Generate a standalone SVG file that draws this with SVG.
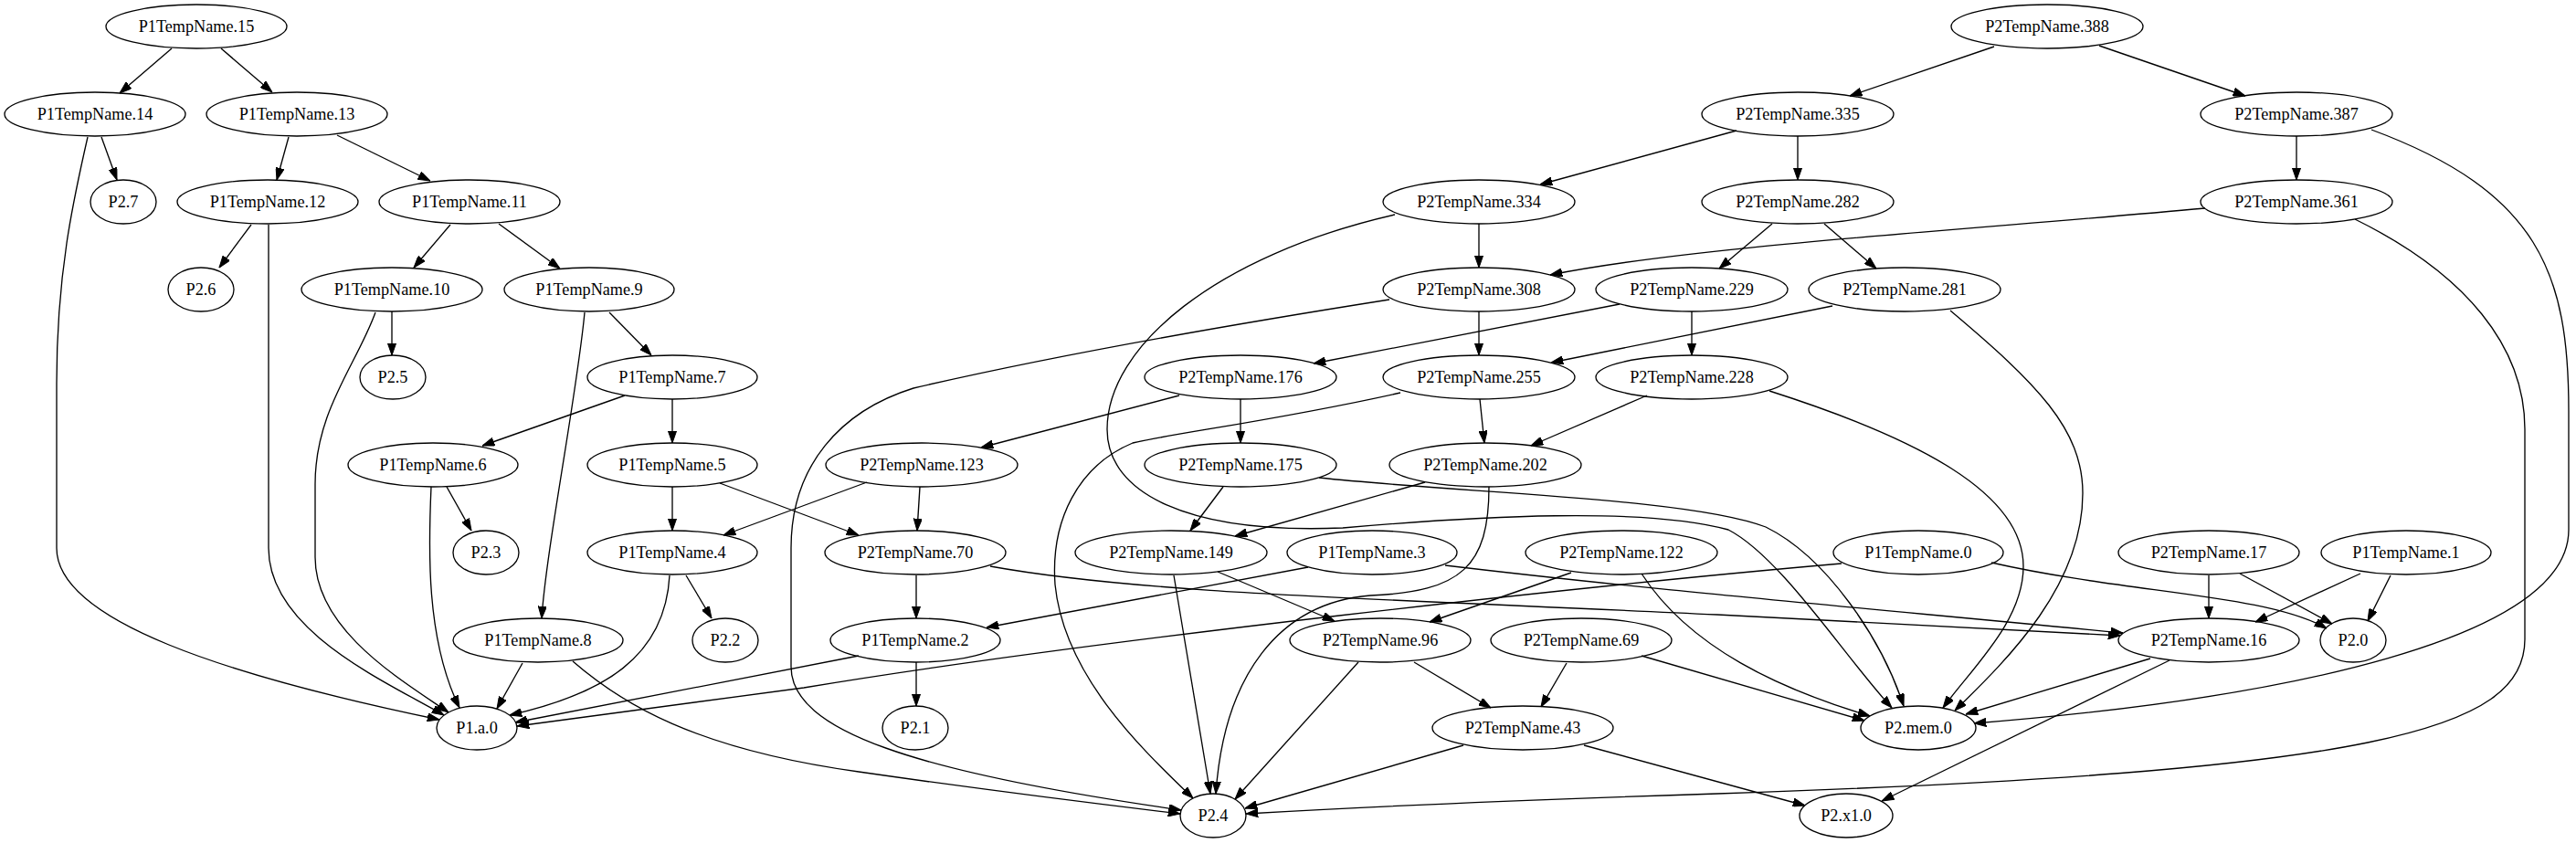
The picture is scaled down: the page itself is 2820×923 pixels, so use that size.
<svg xmlns="http://www.w3.org/2000/svg" width="2820" height="923" viewBox="0 0 2820 923">
<style>
.n ellipse{fill:none;stroke:#000;stroke-width:1.33}
.n text{font-family:"Liberation Serif","Times New Roman",serif;font-size:18.2px;text-anchor:middle;fill:#000}
#edges path{fill:none;stroke:#000;stroke-width:1.33;marker-end:url(#arr)}
</style>
<defs>
<marker id="arr" markerUnits="userSpaceOnUse" markerWidth="13.3" markerHeight="9.3" viewBox="0 0 13.3 9.3" refX="13.3" refY="4.65" orient="auto"><path d="M0,0 L13.3,4.65 L0,9.3 z" fill="#000" stroke="#000" stroke-width="1"/></marker>
</defs>
<rect width="2820" height="923" fill="#fff"/>
<g id="edges">
<path d="M188,53 L131,102"/>
<path d="M242,53 L298,101"/>
<path d="M111,150 L128,197"/>
<path d="M96,150 C80,220 62,300 62,420 L62,600 C62,680 250,740 481,788"/>
<path d="M316,150 L303,197"/>
<path d="M369,148 L471,198"/>
<path d="M275,246 L240,293"/>
<path d="M294,246 L294,600 C294,690 420,745 486,783"/>
<path d="M493,246 L453,293"/>
<path d="M546,245 L613,294"/>
<path d="M429,341 L429,389"/>
<path d="M411,342 C390,400 345,450 345,530 L345,610 C345,690 440,745 491,780"/>
<path d="M667,342 L713,389"/>
<path d="M640,342 C632,430 598,600 593,677"/>
<path d="M684,433 L528,488"/>
<path d="M736,437 L736,485"/>
<path d="M489,533 L516,581"/>
<path d="M472,533 C469,600 466,700 503,775"/>
<path d="M736,533 L736,581"/>
<path d="M788,529 L940,586"/>
<path d="M751,630 L779,677"/>
<path d="M733,630 C728,720 660,760 558,783"/>
<path d="M572,726 L544,776"/>
<path d="M627,724 C680,770 760,820 940,845 C1100,868 1200,880 1292,891"/>
<path d="M949,528 L792,586"/>
<path d="M1007,533 L1004,581"/>
<path d="M1003,630 L1003,677"/>
<path d="M1084,620 C1250,650 1500,655 1880,673 L2321,696"/>
<path d="M1003,725 L1003,773"/>
<path d="M940,718 L564,791"/>
<path d="M2016,617 C1750,640 1200,700 880,753 L566,795"/>
<path d="M2180,616 C2330,650 2480,650 2547,688"/>
<path d="M1432,621 L1080,687"/>
<path d="M1582,619 C1800,645 2000,662 2324,693"/>
<path d="M2183,51 L2025,105"/>
<path d="M2298,50 L2458,105"/>
<path d="M1901,143 L1686,202"/>
<path d="M1968,149 L1968,197"/>
<path d="M2514,149 L2514,197"/>
<path d="M2596,142 C2780,210 2812,300 2812,450 L2812,580 C2812,700 2500,765 2161,792"/>
<path d="M1619,245 L1619,293"/>
<path d="M1527,235 C1330,280 1212,380 1212,470 C1212,540 1300,585 1470,578 C1620,565 1800,555 1892,580 C1950,610 2020,720 2071,775"/>
<path d="M1940,245 L1882,294"/>
<path d="M1997,245 L2054,294"/>
<path d="M2414,228 C2150,252 1850,270 1697,301"/>
<path d="M2578,240 C2700,300 2764,380 2764,470 L2764,700 C2764,800 2600,845 1880,869 C1600,878 1450,886 1364,891"/>
<path d="M1619,341 L1619,389"/>
<path d="M1521,328 C1350,355 1150,390 1000,425 C920,450 866,510 866,600 L866,730 C866,800 1000,845 1293,887"/>
<path d="M1773,333 L1438,398"/>
<path d="M1852,341 L1852,389"/>
<path d="M2006,335 L1698,397"/>
<path d="M2135,340 C2230,420 2280,470 2280,540 C2280,640 2200,720 2140,778"/>
<path d="M1291,433 L1074,490"/>
<path d="M1358,437 L1358,485"/>
<path d="M1620,437 L1625,485"/>
<path d="M1533,430 C1400,460 1280,475 1240,485 C1180,510 1150,570 1155,640 C1165,740 1250,820 1306,874"/>
<path d="M1803,433 L1676,488"/>
<path d="M1937,428 C2100,480 2215,540 2215,620 C2215,680 2160,730 2127,775"/>
<path d="M1339,533 L1303,581"/>
<path d="M1444,523 C1600,540 1850,545 1933,577 C2000,610 2060,700 2084,773"/>
<path d="M1560,528 L1352,587"/>
<path d="M1630,533 C1630,620 1600,648 1500,652 C1400,660 1340,740 1331,869"/>
<path d="M1333,626 L1461,680"/>
<path d="M1285,630 L1325,869"/>
<path d="M1720,627 L1565,681"/>
<path d="M1797,628 C1850,710 1950,755 2047,784"/>
<path d="M1548,725 L1632,775"/>
<path d="M1487,725 L1352,875"/>
<path d="M1715,726 L1687,774"/>
<path d="M1797,718 L2041,789"/>
<path d="M1602,816 L1363,885"/>
<path d="M1734,816 L1976,882"/>
<path d="M2418,630 L2418,677"/>
<path d="M2452,628 L2553,683"/>
<path d="M2584,628 L2469,681"/>
<path d="M2617,630 L2592,680"/>
<path d="M2354,721 L2152,782"/>
<path d="M2375,723 L2060,877"/>
</g>
<g id="n15" class="n"><ellipse cx="215" cy="29" rx="99" ry="24"/><text x="215" y="35">P1TempName.15</text></g>
<g id="n14" class="n"><ellipse cx="104" cy="125" rx="99" ry="24"/><text x="104" y="131">P1TempName.14</text></g>
<g id="n13" class="n"><ellipse cx="325" cy="125" rx="99" ry="24"/><text x="325" y="131">P1TempName.13</text></g>
<g id="p27" class="n"><ellipse cx="135" cy="221" rx="36" ry="24"/><text x="135" y="227">P2.7</text></g>
<g id="n12" class="n"><ellipse cx="293" cy="221" rx="99" ry="24"/><text x="293" y="227">P1TempName.12</text></g>
<g id="n11" class="n"><ellipse cx="514" cy="221" rx="99" ry="24"/><text x="514" y="227">P1TempName.11</text></g>
<g id="p26" class="n"><ellipse cx="220" cy="317" rx="36" ry="24"/><text x="220" y="323">P2.6</text></g>
<g id="n10" class="n"><ellipse cx="429" cy="317" rx="99" ry="24"/><text x="429" y="323">P1TempName.10</text></g>
<g id="n9" class="n"><ellipse cx="645" cy="317" rx="93" ry="24"/><text x="645" y="323">P1TempName.9</text></g>
<g id="p25" class="n"><ellipse cx="430" cy="413" rx="36" ry="24"/><text x="430" y="419">P2.5</text></g>
<g id="n7" class="n"><ellipse cx="736" cy="413" rx="93" ry="24"/><text x="736" y="419">P1TempName.7</text></g>
<g id="n6" class="n"><ellipse cx="474" cy="509" rx="93" ry="24"/><text x="474" y="515">P1TempName.6</text></g>
<g id="n5" class="n"><ellipse cx="736" cy="509" rx="93" ry="24"/><text x="736" y="515">P1TempName.5</text></g>
<g id="p23" class="n"><ellipse cx="532" cy="605" rx="36" ry="24"/><text x="532" y="611">P2.3</text></g>
<g id="n4" class="n"><ellipse cx="736" cy="605" rx="93" ry="24"/><text x="736" y="611">P1TempName.4</text></g>
<g id="n8" class="n"><ellipse cx="589" cy="701" rx="93" ry="24"/><text x="589" y="707">P1TempName.8</text></g>
<g id="p22" class="n"><ellipse cx="794" cy="701" rx="36" ry="24"/><text x="794" y="707">P2.2</text></g>
<g id="pa0" class="n"><ellipse cx="522" cy="797" rx="44" ry="24"/><text x="522" y="803">P1.a.0</text></g>
<g id="m388" class="n"><ellipse cx="2241" cy="29" rx="105" ry="24"/><text x="2241" y="35">P2TempName.388</text></g>
<g id="m335" class="n"><ellipse cx="1968" cy="125" rx="105" ry="24"/><text x="1968" y="131">P2TempName.335</text></g>
<g id="m387" class="n"><ellipse cx="2514" cy="125" rx="105" ry="24"/><text x="2514" y="131">P2TempName.387</text></g>
<g id="m334" class="n"><ellipse cx="1619" cy="221" rx="105" ry="24"/><text x="1619" y="227">P2TempName.334</text></g>
<g id="m282" class="n"><ellipse cx="1968" cy="221" rx="105" ry="24"/><text x="1968" y="227">P2TempName.282</text></g>
<g id="m361" class="n"><ellipse cx="2514" cy="221" rx="105" ry="24"/><text x="2514" y="227">P2TempName.361</text></g>
<g id="m308" class="n"><ellipse cx="1619" cy="317" rx="105" ry="24"/><text x="1619" y="323">P2TempName.308</text></g>
<g id="m229" class="n"><ellipse cx="1852" cy="317" rx="105" ry="24"/><text x="1852" y="323">P2TempName.229</text></g>
<g id="m281" class="n"><ellipse cx="2085" cy="317" rx="105" ry="24"/><text x="2085" y="323">P2TempName.281</text></g>
<g id="m176" class="n"><ellipse cx="1358" cy="413" rx="105" ry="24"/><text x="1358" y="419">P2TempName.176</text></g>
<g id="m255" class="n"><ellipse cx="1619" cy="413" rx="105" ry="24"/><text x="1619" y="419">P2TempName.255</text></g>
<g id="m228" class="n"><ellipse cx="1852" cy="413" rx="105" ry="24"/><text x="1852" y="419">P2TempName.228</text></g>
<g id="m123" class="n"><ellipse cx="1009" cy="509" rx="105" ry="24"/><text x="1009" y="515">P2TempName.123</text></g>
<g id="m175" class="n"><ellipse cx="1358" cy="509" rx="105" ry="24"/><text x="1358" y="515">P2TempName.175</text></g>
<g id="m202" class="n"><ellipse cx="1626" cy="509" rx="105" ry="24"/><text x="1626" y="515">P2TempName.202</text></g>
<g id="m70" class="n"><ellipse cx="1002" cy="605" rx="99" ry="24"/><text x="1002" y="611">P2TempName.70</text></g>
<g id="m149" class="n"><ellipse cx="1282" cy="605" rx="105" ry="24"/><text x="1282" y="611">P2TempName.149</text></g>
<g id="n3" class="n"><ellipse cx="1502" cy="605" rx="93" ry="24"/><text x="1502" y="611">P1TempName.3</text></g>
<g id="m122" class="n"><ellipse cx="1775" cy="605" rx="105" ry="24"/><text x="1775" y="611">P2TempName.122</text></g>
<g id="n0" class="n"><ellipse cx="2100" cy="605" rx="93" ry="24"/><text x="2100" y="611">P1TempName.0</text></g>
<g id="m17" class="n"><ellipse cx="2418" cy="605" rx="99" ry="24"/><text x="2418" y="611">P2TempName.17</text></g>
<g id="n1" class="n"><ellipse cx="2634" cy="605" rx="93" ry="24"/><text x="2634" y="611">P1TempName.1</text></g>
<g id="n2" class="n"><ellipse cx="1002" cy="701" rx="93" ry="24"/><text x="1002" y="707">P1TempName.2</text></g>
<g id="m96" class="n"><ellipse cx="1511" cy="701" rx="99" ry="24"/><text x="1511" y="707">P2TempName.96</text></g>
<g id="m69" class="n"><ellipse cx="1731" cy="701" rx="99" ry="24"/><text x="1731" y="707">P2TempName.69</text></g>
<g id="m16" class="n"><ellipse cx="2418" cy="701" rx="99" ry="24"/><text x="2418" y="707">P2TempName.16</text></g>
<g id="p20" class="n"><ellipse cx="2576" cy="701" rx="36" ry="24"/><text x="2576" y="707">P2.0</text></g>
<g id="p21" class="n"><ellipse cx="1002" cy="797" rx="36" ry="24"/><text x="1002" y="803">P2.1</text></g>
<g id="m43" class="n"><ellipse cx="1667" cy="797" rx="99" ry="24"/><text x="1667" y="803">P2TempName.43</text></g>
<g id="pmem" class="n"><ellipse cx="2100" cy="797" rx="63" ry="24"/><text x="2100" y="803">P2.mem.0</text></g>
<g id="p24" class="n"><ellipse cx="1328" cy="893" rx="36" ry="24"/><text x="1328" y="899">P2.4</text></g>
<g id="px1" class="n"><ellipse cx="2021" cy="893" rx="51" ry="24"/><text x="2021" y="899">P2.x1.0</text></g>
</svg>
